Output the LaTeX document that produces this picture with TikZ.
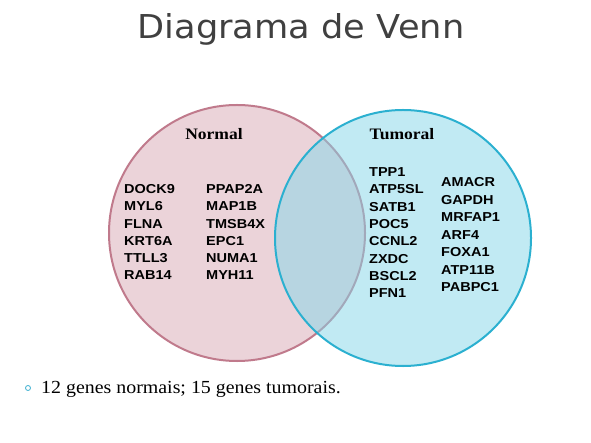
\documentclass[tikz,border=0pt]{standalone}
\usepackage{fontspec}
\setmainfont{Liberation Serif}
\newfontfamily\titlefont[FakeStretch=1.07]{DejaVu Sans}
\newfontfamily\genefont[FakeStretch=1.12]{Liberation Sans}
\newfontfamily\setfont[FakeStretch=1.1]{Liberation Serif}
\newfontfamily\notefont[FakeStretch=1.08]{Liberation Serif}
\definecolor{titlegrey}{HTML}{404040}
\definecolor{normalfill}{HTML}{EBD3D9}
\definecolor{normalrim}{HTML}{C07A8C}
\definecolor{tumorfill}{RGB}{133,215,233}
\definecolor{tumorrim}{HTML}{2BB0D0}
\definecolor{bulletblue}{HTML}{3AAFD0}
\tikzset{
  setcircle/.style={circle, minimum size=256bp, inner sep=0pt, line width=2bp},
  setname/.style={font=\setfont\bfseries\fontsize{16}{18}\selectfont, anchor=base},
  gene/.style={font=\genefont\bfseries\fontsize{13}{15}\selectfont, anchor=base west, inner sep=0pt},
}
\begin{document}
\begin{tikzpicture}[x=1bp,y=-1bp]
\useasboundingbox (0,0) rectangle (591,443);
\fill[white] (0,0) rectangle (591,443);

% title
\node[font=\titlefont\fontsize{33}{38}\selectfont, text=titlegrey, anchor=base] (title) at (301,39) {Diagrama de Venn};

% the two sets
\node[setcircle, draw=normalrim, fill=normalfill] (normal) at (237,233) {};
\node[setcircle, draw=tumorrim, fill=tumorfill, fill opacity=0.5] (tumor) at (403,238) {};

\node[setname] (normaltitle) at (214,140) {Normal};
\node[setname] (tumortitle) at (402,140) {Tumoral};

% genes of the normal set
\foreach \g [count=\i] in {DOCK9,MYL6,FLNA,KRT6A,TTLL3,RAB14}
  \node[gene] (na\i) at (124,{189+17.2*(\i-1)+4.7}) {\g};
\foreach \g [count=\i] in {PPAP2A,MAP1B,TMSB4X,EPC1,NUMA1,MYH11}
  \node[gene] (nb\i) at (206,{189+17.2*(\i-1)+4.7}) {\g};

% genes of the tumoral set
\foreach \g [count=\i] in {TPP1,ATP5SL,SATB1,POC5,CCNL2,ZXDC,BSCL2,PFN1}
  \node[gene] (ta\i) at (369,{172+17.3*(\i-1)+4.7}) {\g};
\foreach \g [count=\i] in {AMACR,GAPDH,MRFAP1,ARF4,FOXA1,ATP11B,PABPC1}
  \node[gene] (tb\i) at (441,{182+17.5*(\i-1)+4.7}) {\g};

% summary line
\node[circle, draw=bulletblue, line width=0.8bp, minimum size=5bp, inner sep=0pt] (bullet) at (28,388) {};
\node[font=\notefont\fontsize{18.5}{21}\selectfont, anchor=base west, inner sep=0pt] (summary) at (41,393) {12 genes normais; 15 genes tumorais.};
\end{tikzpicture}
\end{document}
